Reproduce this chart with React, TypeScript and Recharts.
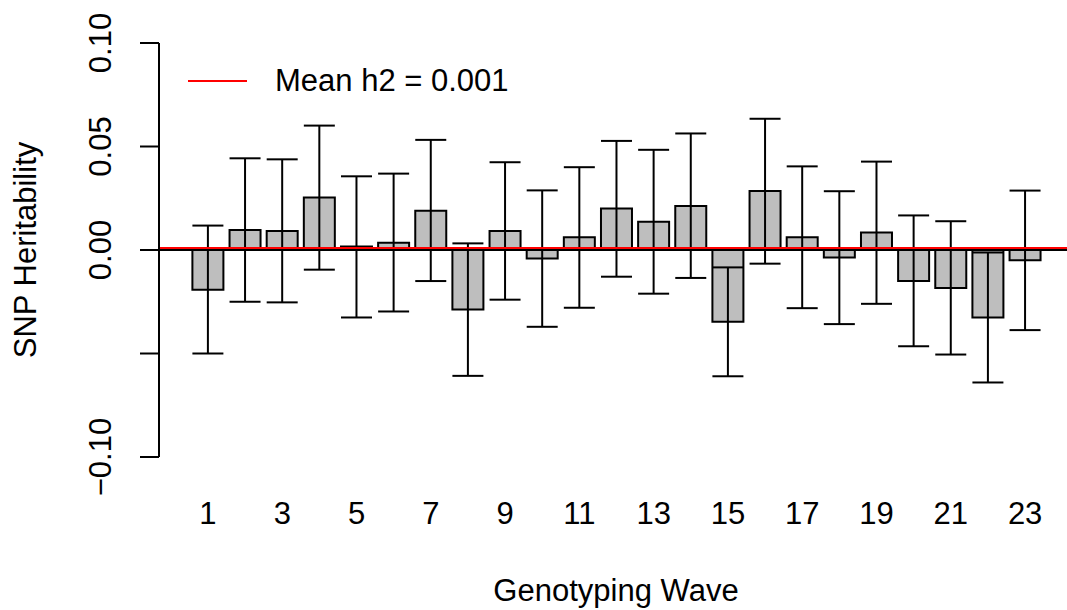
import React from "react";
import {
  BarChart,
  Bar,
  XAxis,
  YAxis,
  ErrorBar,
  ReferenceLine,
} from "recharts";

// heritability estimate per genotyping wave
const waves = ["1", "2", "3", "4", "5", "6", "7", "8", "9", "10", "11", "12", "13", "14", "15", "16", "17", "18", "19", "20", "21", "22", "23"];
const h2 = [-0.0192, 0.0097, 0.0092, 0.0254, 0.0017, 0.0035, 0.019, -0.0287, 0.0092, -0.0041, 0.0061, 0.0201, 0.0137, 0.0213, -0.0347, 0.0285, 0.0061, -0.0036, 0.0085, -0.015, -0.0184, -0.0326, -0.005];
const ciUpper = [0.0118, 0.0443, 0.0438, 0.0601, 0.0356, 0.0369, 0.0532, 0.0032, 0.0424, 0.0288, 0.04, 0.0527, 0.0484, 0.0563, -0.0084, 0.0634, 0.0404, 0.0284, 0.0427, 0.0167, 0.0139, -0.0012, 0.0287];
const ciLower = [-0.05, -0.025, -0.0253, -0.0095, -0.0326, -0.0297, -0.015, -0.0608, -0.024, -0.0371, -0.0279, -0.0129, -0.0211, -0.0135, -0.061, -0.0066, -0.0281, -0.0358, -0.026, -0.0465, -0.0505, -0.064, -0.0387];
const meanH2 = 0.001;
const yTicks = [-0.1, -0.05, 0, 0.05, 0.1];
const yTickLabels = ["\u22120.10", "", "0.00", "0.05", "0.10"];
const xTickLabels = ["1", "3", "5", "7", "9", "11", "13", "15", "17", "19", "21", "23"];

const FONT = "'Liberation Sans', Arial, Helvetica, sans-serif";
const FS = 31;

const data = waves.map((w, i) => ({
  wave: w,
  h2: h2[i],
  err: [h2[i] - ciLower[i], ciUpper[i] - h2[i]],
}));

const YTick = (props: any) => {
  const { y, payload } = props;
  const idx = yTicks.indexOf(payload.value);
  const label = idx >= 0 ? yTickLabels[idx] : "";
  if (!label) return null;
  const tx = 111;
  return (
    <text
      x={tx}
      y={y}
      transform={`rotate(-90 ${tx} ${y})`}
      textAnchor="middle"
      fontFamily={FONT}
      fontSize={FS}
      fill="#000"
    >
      {label}
    </text>
  );
};

const XTick = (props: any) => {
  const { x, payload } = props;
  if (!xTickLabels.includes(payload.value)) return null;
  return (
    <text x={x} y={524} textAnchor="middle" fontFamily={FONT} fontSize={FS} fill="#000">
      {payload.value}
    </text>
  );
};

const YTitle = () => (
  <text
    x={36}
    y={250}
    transform="rotate(-90 36 250)"
    textAnchor="middle"
    fontFamily={FONT}
    fontSize={FS}
    fill="#000"
  >
    SNP Heritability
  </text>
);

const XTitle = () => (
  <text x={616} y={601} textAnchor="middle" fontFamily={FONT} fontSize={FS} fill="#000">
    Genotyping Wave
  </text>
);

// legend box in the top-left of the plot
const MeanLegend = () => (
  <svg
    width={560}
    height={120}
    style={{ position: "absolute", left: 0, top: 0, pointerEvents: "none" }}
  >
    <line x1={188} y1={81} x2={247} y2={81} stroke="#ff0000" strokeWidth={2} />
    <text x={275} y={91} fontFamily={FONT} fontSize={FS} fill="#000">
      Mean h2 = {meanH2.toFixed(3)}
    </text>
  </svg>
);

export default function App() {
  return (
    <div style={{ position: "absolute", left: 0, top: 0, width: 1067, height: 610, background: "#fff" }}>
      <BarChart
        width={1067}
        height={610}
        data={data}
        margin={{ top: 43, right: 0, bottom: 93, left: 0 }}
      >
        <XAxis
          dataKey="wave"
          height={60}
          axisLine={false}
          tickLine={false}
          interval={0}
          padding={{ left: 30.4, right: 23.3 }}
          tick={<XTick />}
          label={<XTitle />}
        />
        <YAxis
          type="number"
          domain={[-0.1, 0.1]}
          ticks={yTicks}
          width={159}
          tickSize={19}
          axisLine={{ stroke: "#000", strokeWidth: 2 }}
          tickLine={{ stroke: "#000", strokeWidth: 2 }}
          tick={<YTick />}
          label={<YTitle />}
        />
        <Bar dataKey="h2" barSize={31} fill="#bebebe" stroke="#000" strokeWidth={2} isAnimationActive={false}>
          <ErrorBar dataKey="err" width={15.5} stroke="#000" strokeWidth={2} direction="y" />
        </Bar>
        <ReferenceLine y={0} stroke="#000" strokeWidth={2} />
        <ReferenceLine y={meanH2} stroke="#ff0000" strokeWidth={2} />
      </BarChart>
      <MeanLegend />
    </div>
  );
}
